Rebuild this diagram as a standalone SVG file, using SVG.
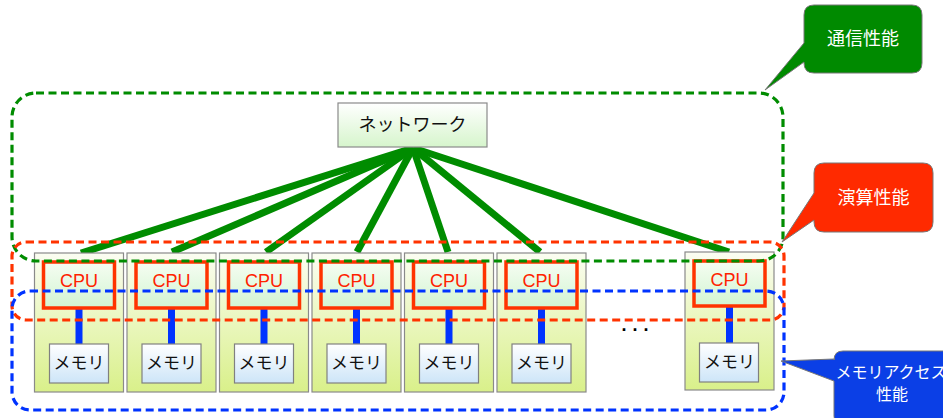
<svg xmlns="http://www.w3.org/2000/svg" width="943" height="418" viewBox="0 0 943 418">
<defs>
<linearGradient id="gNode" x1="0" y1="0" x2="0" y2="1"><stop offset="0" stop-color="#fbfdf2"/><stop offset="1" stop-color="#d9f08a"/></linearGradient>
<linearGradient id="gCpu" x1="0" y1="0" x2="0" y2="1"><stop offset="0" stop-color="#f6fdf2"/><stop offset="1" stop-color="#d2f5d2"/></linearGradient>
<linearGradient id="gMem" x1="0" y1="0" x2="0" y2="1"><stop offset="0" stop-color="#ffffff"/><stop offset="1" stop-color="#cde5f8"/></linearGradient>
<linearGradient id="gNet" x1="0" y1="0" x2="0" y2="1"><stop offset="0" stop-color="#ffffff"/><stop offset="1" stop-color="#d6f5cc"/></linearGradient>
</defs>
<style>
.node{fill:url(#gNode);stroke:#8a8a8a;stroke-width:1.2}
.cpu{fill:url(#gCpu);stroke:#ff3300;stroke-width:3.5}
.mem{fill:url(#gMem);stroke:#808080;stroke-width:1.2}
.bus{stroke:#0033ff;stroke-width:7}
.net{stroke:#008c00;stroke-width:7;fill:none}
.cput{font-family:"Liberation Sans",Arial,sans-serif;font-size:18px;fill:#ff2200;text-anchor:middle}
.jt{font-family:"Noto Sans CJK JP",sans-serif;font-size:17px;fill:#111;text-anchor:middle}
.ct{font-family:"Noto Sans CJK JP",sans-serif;font-size:17px;fill:#ffffff;text-anchor:middle}
.region{fill:none;stroke-width:3.2;stroke-dasharray:8 4.5}
.callout{stroke:#777;stroke-width:1}
</style>

<g id="connectors">
<line class="net" x1="413" y1="148" x2="81" y2="253"/>
<line class="net" x1="413" y1="148" x2="172" y2="252"/>
<line class="net" x1="413" y1="148" x2="266" y2="252"/>
<line class="net" x1="413" y1="148" x2="357" y2="252"/>
<line class="net" x1="413" y1="148" x2="448" y2="252"/>
<line class="net" x1="413" y1="148" x2="540" y2="252"/>
<line class="net" x1="413" y1="148" x2="729" y2="252"/>
</g>

<g id="network">
<rect x="338" y="103" width="149" height="44" fill="url(#gNet)" stroke="#8a8a8a" stroke-width="1.2"/>
<text class="jt" x="412.5" y="131" style="font-size:18px">ネットワーク</text>
</g>

<g id="node1">
<rect class="node" x="34.5" y="253" width="89" height="139"/>
<line class="bus" x1="79" y1="308" x2="79" y2="344"/>
<rect class="cpu" x="43.5" y="262" width="71" height="46"/>
<text class="cput" x="79" y="287">CPU</text>
<rect class="mem" x="49.5" y="344" width="59" height="39"/>
<text class="jt" x="79" y="369">メモリ</text>
</g>
<g id="node2">
<rect class="node" x="127" y="253" width="89" height="139"/>
<line class="bus" x1="171.5" y1="308" x2="171.5" y2="344"/>
<rect class="cpu" x="136" y="262" width="71" height="46"/>
<text class="cput" x="171.5" y="287">CPU</text>
<rect class="mem" x="142" y="344" width="59" height="39"/>
<text class="jt" x="171.5" y="369">メモリ</text>
</g>
<g id="node3">
<rect class="node" x="219.5" y="253" width="89" height="139"/>
<line class="bus" x1="264" y1="308" x2="264" y2="344"/>
<rect class="cpu" x="228.5" y="262" width="71" height="46"/>
<text class="cput" x="264" y="287">CPU</text>
<rect class="mem" x="234.5" y="344" width="59" height="39"/>
<text class="jt" x="264" y="369">メモリ</text>
</g>
<g id="node4">
<rect class="node" x="312" y="253" width="89" height="139"/>
<line class="bus" x1="356.5" y1="308" x2="356.5" y2="344"/>
<rect class="cpu" x="321" y="262" width="71" height="46"/>
<text class="cput" x="356.5" y="287">CPU</text>
<rect class="mem" x="327" y="344" width="59" height="39"/>
<text class="jt" x="356.5" y="369">メモリ</text>
</g>
<g id="node5">
<rect class="node" x="404.5" y="253" width="89" height="139"/>
<line class="bus" x1="449" y1="308" x2="449" y2="344"/>
<rect class="cpu" x="413.5" y="262" width="71" height="46"/>
<text class="cput" x="449" y="287">CPU</text>
<rect class="mem" x="419.5" y="344" width="59" height="39"/>
<text class="jt" x="449" y="369">メモリ</text>
</g>
<g id="node6">
<rect class="node" x="497" y="253" width="89" height="139"/>
<line class="bus" x1="541.5" y1="308" x2="541.5" y2="344"/>
<rect class="cpu" x="506" y="262" width="71" height="46"/>
<text class="cput" x="541.5" y="287">CPU</text>
<rect class="mem" x="512" y="344" width="59" height="39"/>
<text class="jt" x="541.5" y="369">メモリ</text>
</g>
<g id="node7">
<rect class="node" x="685" y="252" width="89" height="138"/>
<line class="bus" x1="729.5" y1="307" x2="729.5" y2="343"/>
<rect class="cpu" x="694" y="261" width="71" height="45"/>
<text class="cput" x="729.5" y="286">CPU</text>
<rect class="mem" x="699.5" y="343" width="59" height="39"/>
<text class="jt" x="729.5" y="368">メモリ</text>
</g>

<g id="ellipsis">
<text x="621.5" y="331" style="font-family:'Liberation Sans',Arial,sans-serif;font-size:18px;font-weight:bold;letter-spacing:6px;fill:#000">...</text>
</g>

<g id="regions">
<rect id="region-comm" class="region" x="12" y="93" width="771" height="168" rx="24" ry="24" stroke="#008c00"/>
<rect id="region-calc" class="region" x="12" y="242" width="772" height="78" rx="14" ry="14" stroke="#ff3300"/>
<rect id="region-mem" class="region" x="12" y="291" width="772" height="119" rx="18" ry="18" stroke="#0033ff"/>
</g>

<g id="callout-comm">
<path class="callout" fill="#008a00" d="M814 5 H912 Q922 5 922 15 V63 Q922 73 912 73 H814 Q804 73 804 63 V62 L765 90 L804 43 V15 Q804 5 814 5 Z"/>
<text class="ct" x="863" y="45" style="font-size:18px">通信性能</text>
</g>
<g id="callout-calc">
<path class="callout" fill="#ff2a00" d="M824 163 H923 Q933 163 933 173 V222 Q933 232 923 232 H824 Q814 232 814 222 V220 L782 242 L814 193 V173 Q814 163 824 163 Z"/>
<text class="ct" x="873.5" y="204" style="font-size:18px">演算性能</text>
</g>
<g id="callout-mem">
<path class="callout" fill="#0b3fe6" d="M843 351 H950 V425 H843 Q834 425 834 416 V381 L781 361 L834 359 V360 Q834 351 843 351 Z"/>
<text class="ct" x="891" y="378" style="font-size:16px">メモリアクセス</text>
<text class="ct" x="892" y="400" style="font-size:16px">性能</text>
</g>
</svg>
